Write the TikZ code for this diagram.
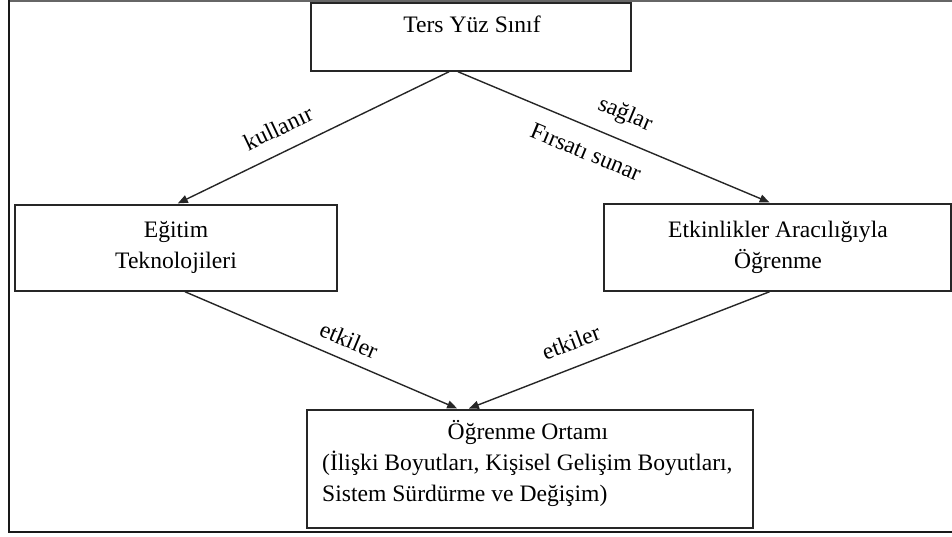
\documentclass[tikz,border=0pt]{standalone}
\usepackage{fontspec}
\setmainfont{Liberation Serif}
\usetikzlibrary{arrows.meta}
\begin{document}
\begin{tikzpicture}[x=1pt,y=-1pt,
  box/.style={draw=black!85,line width=1.5pt,inner sep=0pt},
  txt/.style={inner sep=0pt,anchor=base,font=\fontsize{23.6}{31}\selectfont},
  lbl/.style={inner sep=0pt,font=\fontsize{23.6}{31}\selectfont},
  arr/.style={draw=black!85,line width=1.4pt,-{Triangle[length=10pt,width=8pt]},shorten >=2pt}]
\useasboundingbox (0,0) rectangle (952,537);
% outer frame
\draw[black!60,line width=1.5pt] (956,1) -- (9,1);
\draw[black!90,line width=2.8pt] (9,0) -- (9,532);
\draw[black!90,line width=2.5pt] (8,532) -- (956,532);
% boxes
\node[box,minimum width=320pt,minimum height=68pt] (tys) at (471,37) {};
\node[box,minimum width=322pt,minimum height=86pt] (ego) at (176,248) {};
\node[box,minimum width=347pt,minimum height=87pt] (eam) at (777.5,247.5) {};
\node[box,minimum width=446pt,minimum height=118pt] (oo) at (530,469) {};
% texts
\node[txt] (t1) at (472,32.7) {Ters Yüz Sınıf};
\node[txt] (t2) at (176,237) {Eğitim};
\node[txt] (t3) at (176,268) {Teknolojileri};
\node[txt] (t4) at (778,237) {Etkinlikler Aracılığıyla};
\node[txt] (t5) at (778,268) {Öğrenme};
\node[txt] (t6) at (528,439) {Öğrenme Ortamı};
\node[txt,anchor=base west] (t7) at (322,470) {(İlişki Boyutları, Kişisel Gelişim Boyutları,};
\node[txt,anchor=base west] (t8) at (322,501) {Sistem Sürdürme ve Değişim)};
% connectors
\draw[arr] ([xshift=-22pt]tys.south) -- (ego.north);
\draw[arr] ([xshift=-13pt]tys.south) -- ([xshift=-6pt]eam.north);
\draw[arr] ([xshift=9pt]ego.south) -- ([xshift=-71pt]oo.north);
\draw[arr] ([xshift=-8pt]eam.south) -- ([xshift=-63pt]oo.north);
% labels
\node[lbl,rotate=25.4] (l1) at (278,128) {kullanır};
\node[lbl,rotate=-22.6] (l2) at (625,115) {sağlar};
\node[lbl,rotate=-22.6] (l3) at (586,152) {Fırsatı sunar};
\node[lbl,rotate=-22.8] (l4) at (349,340) {etkiler};
\node[lbl,rotate=20.6] (l5) at (571,342) {etkiler};
\end{tikzpicture}
\end{document}
